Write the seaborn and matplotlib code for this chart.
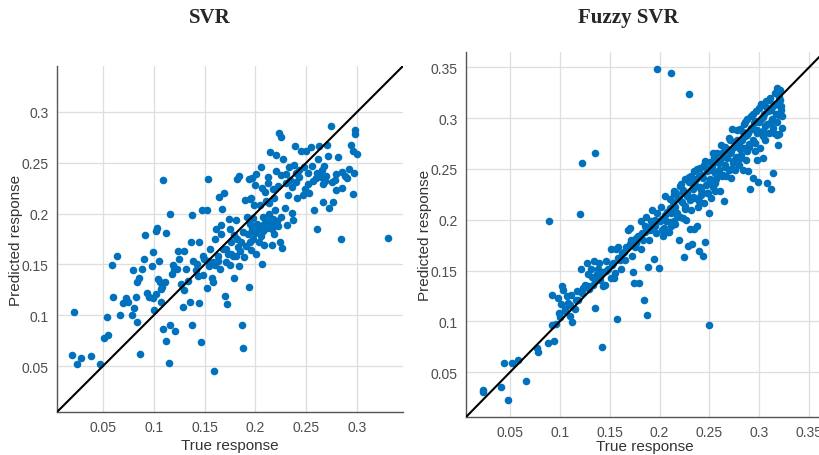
import pandas as pd
import matplotlib
matplotlib.use("Agg")
import matplotlib.pyplot as plt
import seaborn as sns

# (true, predicted) pairs
svr_points = [
    (0.022, 0.103), (0.020, 0.061), (0.025, 0.052), (0.029, 0.058), (0.038, 0.060),
    (0.047, 0.052), (0.051, 0.078), (0.055, 0.081), (0.054, 0.098), (0.067, 0.100),
    (0.060, 0.118), (0.059, 0.149), (0.064, 0.158), (0.073, 0.117), (0.075, 0.113),
    (0.079, 0.100), (0.081, 0.107), (0.080, 0.145), (0.083, 0.118), (0.084, 0.133),
    (0.086, 0.137), (0.084, 0.093), (0.087, 0.062), (0.089, 0.146), (0.090, 0.155),
    (0.091, 0.179), (0.095, 0.118), (0.098, 0.148), (0.099, 0.162), (0.099, 0.117),
    (0.100, 0.105), (0.102, 0.121), (0.102, 0.183), (0.103, 0.186), (0.104, 0.136),
    (0.105, 0.153), (0.106, 0.133), (0.107, 0.126), (0.107, 0.113), (0.109, 0.233),
    (0.109, 0.087), (0.111, 0.133), (0.112, 0.181), (0.112, 0.075), (0.115, 0.053),
    (0.116, 0.090), (0.116, 0.200), (0.119, 0.149), (0.120, 0.146), (0.121, 0.085),
    (0.123, 0.146), (0.124, 0.163), (0.127, 0.131), (0.129, 0.108), (0.130, 0.163),
    (0.132, 0.146), (0.134, 0.134), (0.136, 0.113), (0.137, 0.172), (0.138, 0.199),
    (0.138, 0.090), (0.139, 0.153), (0.142, 0.145), (0.144, 0.139), (0.145, 0.172),
    (0.145, 0.112), (0.146, 0.074), (0.147, 0.203), (0.148, 0.158), (0.149, 0.155),
    (0.152, 0.203), (0.152, 0.127), (0.153, 0.234), (0.153, 0.153), (0.155, 0.165),
    (0.157, 0.137), (0.158, 0.133), (0.159, 0.045), (0.160, 0.149), (0.161, 0.185),
    (0.163, 0.153), (0.164, 0.216), (0.165, 0.146), (0.166, 0.189), (0.167, 0.204),
    (0.169, 0.220), (0.170, 0.119), (0.171, 0.165), (0.172, 0.111), (0.173, 0.160),
    (0.174, 0.195), (0.175, 0.185), (0.175, 0.149), (0.176, 0.172), (0.178, 0.158),
    (0.179, 0.137), (0.179, 0.179), (0.181, 0.194), (0.182, 0.234), (0.183, 0.167),
    (0.184, 0.148), (0.184, 0.237), (0.185, 0.163), (0.187, 0.090), (0.188, 0.068),
    (0.188, 0.182), (0.189, 0.157), (0.190, 0.213), (0.192, 0.197), (0.193, 0.180),
    (0.194, 0.128), (0.194, 0.234), (0.195, 0.214), (0.195, 0.172), (0.196, 0.164),
    (0.197, 0.185), (0.197, 0.235), (0.198, 0.196), (0.199, 0.208), (0.200, 0.181),
    (0.201, 0.239), (0.201, 0.160), (0.202, 0.190), (0.203, 0.172), (0.204, 0.208),
    (0.205, 0.246), (0.206, 0.150), (0.207, 0.197), (0.207, 0.183), (0.208, 0.169),
    (0.209, 0.221), (0.210, 0.212), (0.211, 0.193), (0.212, 0.230), (0.212, 0.236),
    (0.213, 0.200), (0.214, 0.260), (0.215, 0.187), (0.216, 0.169), (0.217, 0.224),
    (0.217, 0.195), (0.218, 0.180), (0.219, 0.203), (0.220, 0.242), (0.220, 0.258),
    (0.221, 0.193), (0.222, 0.227), (0.223, 0.279), (0.224, 0.172), (0.225, 0.197),
    (0.225, 0.275), (0.226, 0.166), (0.227, 0.254), (0.229, 0.205), (0.230, 0.239),
    (0.231, 0.189), (0.232, 0.218), (0.233, 0.246), (0.234, 0.233), (0.236, 0.201),
    (0.237, 0.194), (0.238, 0.248), (0.239, 0.266), (0.240, 0.231), (0.241, 0.215),
    (0.243, 0.236), (0.243, 0.243), (0.245, 0.261), (0.247, 0.218), (0.248, 0.246),
    (0.249, 0.224), (0.250, 0.261), (0.252, 0.240), (0.253, 0.220), (0.255, 0.265),
    (0.256, 0.247), (0.258, 0.203), (0.259, 0.235), (0.260, 0.185), (0.261, 0.254),
    (0.262, 0.266), (0.264, 0.236), (0.265, 0.243), (0.266, 0.229), (0.266, 0.211),
    (0.267, 0.247), (0.269, 0.237), (0.270, 0.267), (0.271, 0.257), (0.272, 0.205),
    (0.274, 0.286), (0.275, 0.231), (0.276, 0.211), (0.278, 0.233), (0.279, 0.239),
    (0.279, 0.223), (0.281, 0.256), (0.284, 0.175), (0.285, 0.241), (0.288, 0.237),
    (0.292, 0.244), (0.294, 0.267), (0.296, 0.261), (0.296, 0.219), (0.297, 0.240),
    (0.298, 0.282), (0.298, 0.278), (0.300, 0.259), (0.330, 0.176),
    (0.195, 0.190), (0.203, 0.185), (0.208, 0.190), (0.211, 0.186), (0.214, 0.192),
    (0.216, 0.185), (0.219, 0.190), (0.222, 0.188), (0.205, 0.178), (0.198, 0.175),
    (0.191, 0.168), (0.186, 0.172), (0.181, 0.158), (0.176, 0.160), (0.168, 0.165),
    (0.163, 0.158), (0.158, 0.152), (0.154, 0.148), (0.148, 0.140), (0.143, 0.150),
    (0.171, 0.152), (0.182, 0.175), (0.213, 0.210), (0.218, 0.215), (0.206, 0.225),
    (0.200, 0.228), (0.196, 0.215), (0.225, 0.238), (0.230, 0.230), (0.236, 0.226),
    (0.240, 0.240), (0.260, 0.240), (0.257, 0.232), (0.252, 0.229), (0.268, 0.232),
    (0.285, 0.225), (0.290, 0.235), (0.118, 0.141), (0.125, 0.155), (0.108, 0.128),
    (0.093, 0.122), (0.070, 0.112), (0.130, 0.125), (0.160, 0.175), (0.166, 0.180),
]

# (true, predicted) pairs
fuzzy_points = [
    (0.197, 0.348), (0.211, 0.345), (0.230, 0.324), (0.135, 0.266), (0.122, 0.256),
    (0.120, 0.206), (0.089, 0.199), (0.250, 0.096), (0.142, 0.075), (0.157, 0.102),
    (0.187, 0.106), (0.184, 0.121), (0.135, 0.113),
    (0.023, 0.032), (0.023, 0.030), (0.041, 0.035), (0.044, 0.059), (0.052, 0.059),
    (0.058, 0.062), (0.048, 0.022), (0.066, 0.041), (0.077, 0.074), (0.078, 0.070),
    (0.088, 0.079), (0.094, 0.081), (0.092, 0.096), (0.096, 0.097), (0.092, 0.126),
    (0.098, 0.123), (0.102, 0.135), (0.103, 0.131), (0.101, 0.117), (0.099, 0.108),
    (0.105, 0.112), (0.107, 0.125), (0.108, 0.118), (0.110, 0.105), (0.112, 0.099),
    (0.111, 0.126), (0.115, 0.112), (0.117, 0.130), (0.118, 0.121), (0.121, 0.151),
    (0.123, 0.133), (0.125, 0.136), (0.127, 0.157), (0.128, 0.147), (0.129, 0.132),
    (0.131, 0.151), (0.132, 0.144), (0.133, 0.136), (0.134, 0.159), (0.137, 0.147),
    (0.138, 0.151), (0.139, 0.157), (0.140, 0.141), (0.142, 0.149), (0.143, 0.135),
    (0.145, 0.136), (0.146, 0.159), (0.148, 0.151), (0.151, 0.143), (0.151, 0.171),
    (0.153, 0.157), (0.154, 0.143), (0.155, 0.148), (0.156, 0.171), (0.158, 0.173),
    (0.160, 0.160), (0.161, 0.151), (0.162, 0.167), (0.165, 0.160), (0.166, 0.173),
    (0.168, 0.190), (0.170, 0.192), (0.171, 0.180), (0.172, 0.164), (0.173, 0.149),
    (0.174, 0.138), (0.175, 0.173), (0.176, 0.177), (0.178, 0.184), (0.179, 0.138),
    (0.181, 0.171), (0.181, 0.199), (0.182, 0.187), (0.183, 0.180), (0.185, 0.194),
    (0.186, 0.203), (0.188, 0.153), (0.189, 0.180), (0.190, 0.190), (0.191, 0.199),
    (0.192, 0.210), (0.194, 0.161), (0.195, 0.194), (0.196, 0.187), (0.197, 0.207),
    (0.199, 0.152), (0.200, 0.199), (0.201, 0.213), (0.202, 0.201), (0.203, 0.184),
    (0.204, 0.192), (0.205, 0.223), (0.206, 0.199), (0.207, 0.208), (0.209, 0.188),
    (0.210, 0.220), (0.211, 0.207), (0.211, 0.194), (0.213, 0.217), (0.214, 0.228),
    (0.215, 0.199), (0.216, 0.213), (0.217, 0.226), (0.218, 0.207), (0.219, 0.220),
    (0.220, 0.180), (0.221, 0.233), (0.221, 0.203), (0.223, 0.217), (0.224, 0.226),
    (0.225, 0.163), (0.226, 0.240), (0.226, 0.211), (0.227, 0.200), (0.228, 0.223),
    (0.229, 0.174), (0.230, 0.237), (0.231, 0.191), (0.231, 0.219), (0.232, 0.243),
    (0.233, 0.176), (0.234, 0.230), (0.235, 0.191), (0.235, 0.248), (0.236, 0.221),
    (0.237, 0.240), (0.238, 0.194), (0.239, 0.213), (0.240, 0.169), (0.241, 0.251),
    (0.241, 0.232), (0.242, 0.224), (0.243, 0.244), (0.244, 0.164), (0.245, 0.216),
    (0.245, 0.254), (0.246, 0.178), (0.247, 0.234), (0.248, 0.248), (0.249, 0.226),
    (0.250, 0.207), (0.251, 0.257), (0.251, 0.240), (0.252, 0.221), (0.253, 0.252),
    (0.254, 0.232), (0.255, 0.262), (0.256, 0.246), (0.256, 0.228), (0.257, 0.240),
    (0.258, 0.266), (0.260, 0.249), (0.261, 0.228), (0.261, 0.259), (0.263, 0.243),
    (0.264, 0.267), (0.265, 0.218), (0.266, 0.252), (0.266, 0.272), (0.267, 0.243),
    (0.268, 0.261), (0.270, 0.249), (0.271, 0.279), (0.271, 0.266), (0.272, 0.241),
    (0.273, 0.289), (0.274, 0.256), (0.275, 0.272), (0.276, 0.249), (0.277, 0.262),
    (0.278, 0.279), (0.280, 0.254), (0.281, 0.270), (0.281, 0.289), (0.282, 0.264),
    (0.283, 0.279), (0.284, 0.249), (0.285, 0.294), (0.285, 0.271), (0.286, 0.282),
    (0.287, 0.259), (0.288, 0.299), (0.289, 0.285), (0.289, 0.248), (0.290, 0.275),
    (0.291, 0.230), (0.292, 0.302), (0.293, 0.289), (0.294, 0.279), (0.294, 0.241),
    (0.295, 0.295), (0.296, 0.268), (0.297, 0.307), (0.298, 0.259), (0.298, 0.285),
    (0.299, 0.237), (0.300, 0.310), (0.301, 0.271), (0.302, 0.299), (0.303, 0.313),
    (0.304, 0.287), (0.304, 0.261), (0.305, 0.304), (0.306, 0.279), (0.307, 0.317),
    (0.308, 0.294), (0.308, 0.236), (0.309, 0.307), (0.310, 0.285), (0.311, 0.320),
    (0.312, 0.230), (0.313, 0.299), (0.314, 0.246), (0.314, 0.312), (0.315, 0.285),
    (0.316, 0.325), (0.317, 0.304), (0.318, 0.283), (0.318, 0.330), (0.319, 0.274),
    (0.320, 0.313), (0.320, 0.303), (0.321, 0.318), (0.322, 0.308),
    (0.205, 0.205), (0.210, 0.212), (0.215, 0.214), (0.220, 0.220), (0.224, 0.229),
    (0.228, 0.226), (0.233, 0.236), (0.237, 0.233), (0.240, 0.243), (0.244, 0.241),
    (0.248, 0.250), (0.252, 0.249), (0.256, 0.257), (0.260, 0.256), (0.264, 0.262),
    (0.268, 0.270), (0.272, 0.268), (0.276, 0.276), (0.280, 0.275), (0.284, 0.286),
    (0.288, 0.283), (0.292, 0.290), (0.296, 0.297), (0.300, 0.296), (0.304, 0.301),
    (0.308, 0.310), (0.312, 0.308), (0.316, 0.314), (0.320, 0.321), (0.322, 0.312),
    (0.318, 0.296), (0.314, 0.290), (0.306, 0.292), (0.298, 0.288), (0.290, 0.272),
    (0.282, 0.262), (0.274, 0.258), (0.266, 0.254), (0.258, 0.245), (0.250, 0.236),
    (0.242, 0.229), (0.234, 0.222), (0.226, 0.214), (0.218, 0.204), (0.210, 0.198),
    (0.202, 0.190), (0.195, 0.200), (0.190, 0.193), (0.185, 0.188), (0.176, 0.182),
    (0.170, 0.176), (0.164, 0.168), (0.158, 0.162), (0.152, 0.155), (0.146, 0.150),
    (0.140, 0.145), (0.135, 0.140), (0.128, 0.135), (0.122, 0.128), (0.116, 0.121),
    (0.110, 0.116), (0.105, 0.110), (0.100, 0.104), (0.215, 0.225), (0.222, 0.235),
    (0.230, 0.242), (0.238, 0.250), (0.246, 0.258), (0.254, 0.266), (0.262, 0.274),
    (0.270, 0.281), (0.278, 0.288), (0.286, 0.296), (0.294, 0.304), (0.302, 0.314),
    (0.310, 0.318), (0.318, 0.326), (0.321, 0.328), (0.323, 0.302), (0.323, 0.290),
    (0.320, 0.284), (0.312, 0.296), (0.304, 0.282), (0.296, 0.276), (0.288, 0.268),
    (0.280, 0.260), (0.272, 0.250), (0.264, 0.244), (0.256, 0.236), (0.248, 0.226),
    (0.240, 0.218), (0.232, 0.210), (0.224, 0.202), (0.216, 0.196), (0.208, 0.188),
]

svr_ticks = [0.05, 0.1, 0.15, 0.2, 0.25, 0.3]
fuzzy_ticks = [0.05, 0.1, 0.15, 0.2, 0.25, 0.3, 0.35]

sns.set_style("whitegrid")
plt.rcParams['font.family'] = ['Liberation Sans', 'DejaVu Sans']

BLUE = "#0072BD"

fig = plt.figure(figsize=(8.19, 4.56), dpi=100)
ax1 = fig.add_axes([0.0696, 0.0943, 0.4225, 0.7588])
ax2 = fig.add_axes([0.569, 0.0833, 0.437, 0.800])


def draw_panel(ax, points, lim, ticks, title, title_x, xpad):
    df = pd.DataFrame(points, columns=["true", "pred"])
    sns.scatterplot(data=df, x="true", y="pred", ax=ax, color=BLUE,
                    s=30, linewidth=0, zorder=3)
    ax.axline((0, 0), slope=1, color="black", lw=1.5, zorder=4)
    ax.set_xlim(*lim)
    ax.set_ylim(*lim)
    ax.set_xticks(ticks)
    ax.set_yticks(ticks)
    ax.set_xticklabels([f"{t:g}" for t in ticks])
    ax.set_yticklabels([f"{t:g}" for t in ticks])
    ax.tick_params(labelsize=10, colors="#4d4d4d", length=0, pad=6)
    ax.grid(True, color="#dedede", lw=0.9)
    for side in ["top", "right"]:
        ax.spines[side].set_visible(False)
    for side in ["left", "bottom"]:
        ax.spines[side].set_color("#555555")
        ax.spines[side].set_linewidth(1.0)
    ax.set_xlabel("True response", fontsize=11, color="#333333", labelpad=xpad)
    ax.set_ylabel("Predicted response", fontsize=11, color="#333333", labelpad=-1)
    fig.text(title_x, 1 - 18 / 456, title, ha="center", va="center",
             fontsize=15, fontweight="bold", family="Liberation Serif")


draw_panel(ax1, svr_points, (0.005, 0.345), svr_ticks, "SVR", 210 / 819, 3)
draw_panel(ax2, fuzzy_points, (0.0057, 0.365), fuzzy_ticks, "Fuzzy SVR", 628 / 819, 0)

fig.savefig("out.png", dpi=100)
